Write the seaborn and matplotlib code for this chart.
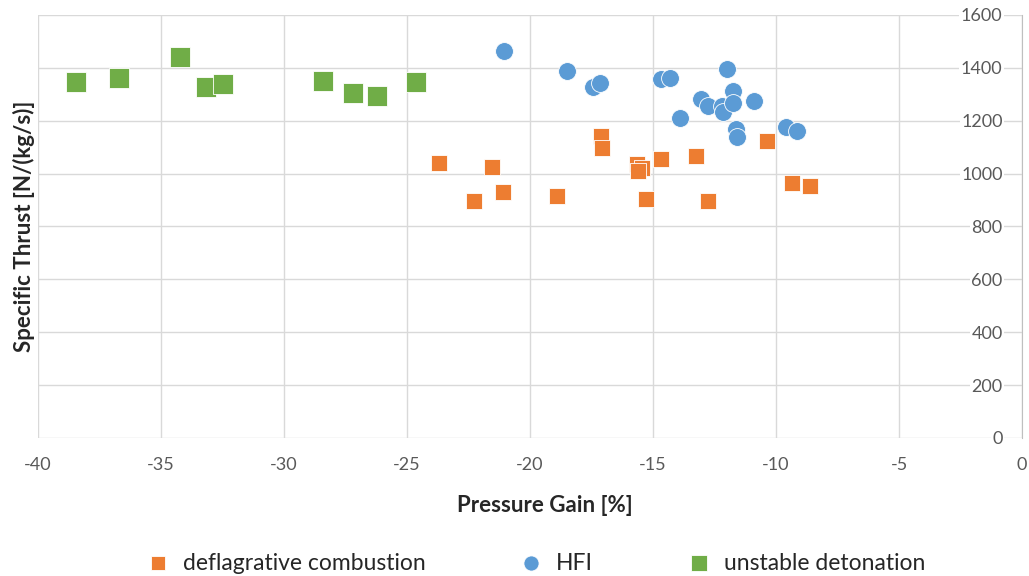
import matplotlib
matplotlib.use("Agg")
import matplotlib.pyplot as plt
import seaborn as sns
import pandas as pd

# deflagrative combustion (orange squares)
defl_gain = [-23.71, -21.53, -22.26, -21.11, -18.90, -17.11, -17.07, -15.64, -15.46,
             -15.60, -15.28, -14.66, -13.27, -12.76, -10.38, -9.36, -8.63]
defl_thrust = [1040, 1024, 896, 929, 916, 1142, 1096, 1035, 1022,
               1010, 905, 1057, 1067, 896, 1125, 964, 955]

# HFI (blue circles)
hfi_gain = [-21.07, -18.51, -17.45, -17.14, -14.66, -14.30, -12.00, -13.04, -12.75,
            -12.21, -12.14, -11.73, -11.76, -10.89, -13.89, -11.64, -11.57, -9.61, -9.16]
hfi_thrust = [1462, 1388, 1328, 1342, 1357, 1361, 1394, 1284, 1256,
              1254, 1233, 1311, 1266, 1276, 1212, 1170, 1139, 1178, 1161]

# unstable detonation (green squares)
det_gain = [-38.47, -36.70, -34.23, -33.17, -32.50, -28.40, -27.20, -26.20, -24.65]
det_thrust = [1345, 1361, 1442, 1328, 1338, 1351, 1305, 1293, 1345]

x_ticks = [-40, -35, -30, -25, -20, -15, -10, -5, 0]
y_ticks = [0, 200, 400, 600, 800, 1000, 1200, 1400, 1600]

sns.set_style("white")
plt.rcParams["font.family"] = ["Lato", "DejaVu Sans"]
plt.rcParams["axes.unicode_minus"] = False

fig = plt.figure(figsize=(10.29, 5.76), dpi=100)
ax = fig.add_axes([38 / 1029, 1 - 438 / 576, (1022 - 38) / 1029, (438 - 15) / 576])

series = [
    ("deflagrative combustion", defl_gain, defl_thrust, "#ED7D31", "s", 125),
    ("HFI", hfi_gain, hfi_thrust, "#5B9BD5", "o", 165),
    ("unstable detonation", det_gain, det_thrust, "#70AD47", "s", 200),
]
for name, gx, gy, color, marker, size in series:
    df = pd.DataFrame({"gain": gx, "thrust": gy})
    sns.scatterplot(data=df, x="gain", y="thrust", ax=ax, color=color, marker=marker,
                    s=size, edgecolor="white", linewidth=0.6, label=name, zorder=3)

ax.set_xlim(-40, 0)
ax.set_ylim(0, 1600)
ax.set_xticks(x_ticks)
ax.set_yticks(y_ticks)
ax.grid(True, color="#D9D9D9", linewidth=1.0)
ax.set_axisbelow(True)
for side in ["top", "left", "bottom"]:
    ax.spines[side].set_visible(False)
ax.spines["right"].set_color("#BFBFBF")

ax.yaxis.tick_right()
ax.tick_params(axis="y", length=0, pad=-14, labelsize=13, labelcolor="#595959")
ax.tick_params(axis="x", length=0, pad=14, labelsize=13, labelcolor="#595959")
for lbl in ax.get_yticklabels():
    lbl.set_ha("right")
    lbl.set_bbox(dict(facecolor="white", edgecolor="none", pad=1))

ax.set_xlabel("Pressure Gain [%]", fontsize=16, fontweight="bold", labelpad=16)
ax.xaxis.set_label_coords((545 - 38) / 984, -(505 - 438) / 423)
ax.xaxis.label.set_va("center")
ax.set_ylabel("Specific Thrust [N/(kg/s)]", fontsize=16, fontweight="bold", labelpad=2)
ax.yaxis.set_label_position("left")

leg = ax.legend(loc="center", bbox_to_anchor=(0.5, -(563 - 438) / 423), ncol=3,
                frameon=False, fontsize=16.5, handletextpad=0.1, columnspacing=3.6,
                markerscale=0.85)
for t in leg.get_texts():
    t.set_color("#262626")

fig.savefig("out.png", dpi=100)
